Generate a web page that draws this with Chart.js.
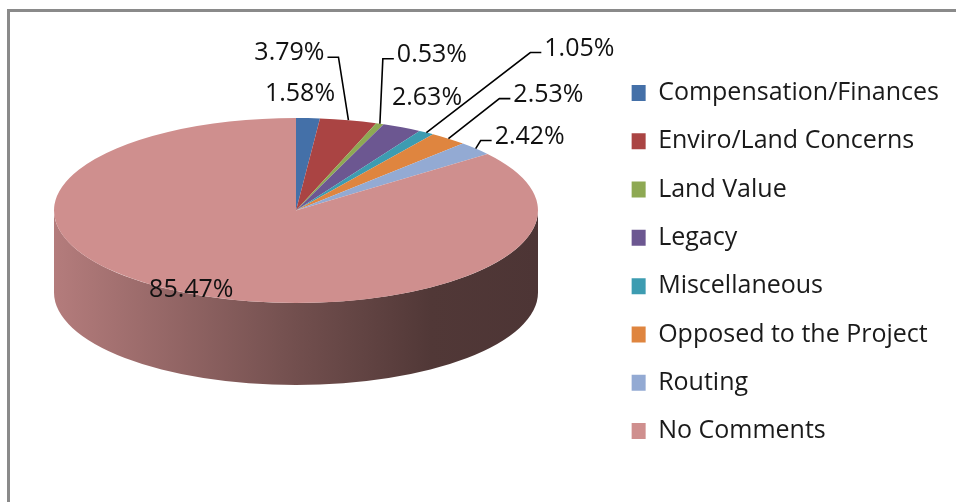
<!DOCTYPE html>
<html><head><meta charset="utf-8">
<script src="https://cdn.jsdelivr.net/npm/chart.js@4"></script>
<style>
html,body{margin:0;padding:0;background:#fff;overflow:hidden}
#wrap{position:relative;width:956px;height:502px;overflow:hidden}
#frame{position:absolute;left:7px;top:9px;width:1000px;height:600px;border-left:3px solid #8a8a8a;border-top:3px solid #8a8a8a;box-sizing:border-box}
canvas{position:absolute;left:0;top:0}
</style></head><body>
<div id="wrap"><div id="frame"></div><canvas id="c" width="956" height="502"></canvas></div>
<script>
// ---- data ----
const categories = ['Compensation/Finances','Enviro/Land Concerns','Land Value','Legacy','Miscellaneous','Opposed to the Project','Routing','No Comments'];
const values = [1.58, 3.79, 0.53, 2.63, 1.05, 2.53, 2.42, 85.47];
const colors = ['#4470A8','#AA4443','#8EA953','#6C5791','#3D9CB1','#DF853F','#93AAD3','#CF8F8E'];

// ---- style / layout ----
const PIE = {cx:296, cy:210.5, rx:242, ry:92.5, depth:82};
const FONT_SIZE = 25;
const labelOffsets = [[-8,-24],[-59,-67],[52,-69],[25,-29],[153,-84],[100,-44],[54,-12],[2,-4]];
const leaderSide = [0,-1,1,0,1,1,1,0];

function shade(hex, f){
  const n = parseInt(hex.slice(1),16);
  const r=(n>>16)&255, g=(n>>8)&255, b=n&255;
  return 'rgb('+Math.round(r*f)+','+Math.round(g*f)+','+Math.round(b*f)+')';
}

const pie3d = {
  id:'pie3d',
  beforeDatasetsDraw(chart){
    const ctx = chart.ctx;
    const meta = chart.getDatasetMeta(0);
    const {cx,cy,rx,ry,depth} = PIE;
    ctx.save();
    meta.data.forEach((arc,i)=>{
      const s = Math.max(arc.startAngle, 0), e = Math.min(arc.endAngle, Math.PI);
      if (e <= s) return;
      const g = ctx.createLinearGradient(cx-rx,0,cx+rx,0);
      const col = colors[i];
      g.addColorStop(0, shade(col,.87));
      g.addColorStop(.5, shade(col,.55));
      g.addColorStop(.78, shade(col,.39));
      g.addColorStop(1, shade(col,.37));
      ctx.beginPath();
      ctx.ellipse(cx,cy,rx,ry,0,s,e,false);
      ctx.ellipse(cx,cy+depth,rx,ry,0,e,s,true);
      ctx.closePath();
      ctx.fillStyle = g;
      ctx.fill();
    });
    ctx.restore();
    const a = meta.data[0];
    ctx.save();
    ctx.translate(cx,cy);
    ctx.scale(rx/a.outerRadius, ry/a.outerRadius);
    ctx.translate(-a.x,-a.y);
  },
  afterDatasetsDraw(chart){
    const ctx = chart.ctx;
    ctx.restore();
    const meta = chart.getDatasetMeta(0);
    const {cx,cy,rx,ry} = PIE;
    ctx.save();
    ctx.font = FONT_SIZE+'px "Open Sans"';
    ctx.fillStyle = '#111';
    ctx.textAlign = 'center';
    ctx.textBaseline = 'middle';
    meta.data.forEach((arc,i)=>{
      const m = (arc.startAngle+arc.endAngle)/2;
      const ax = cx+rx*Math.cos(m), ay = cy+ry*Math.sin(m);
      const tx = ax+labelOffsets[i][0], ty = ay+labelOffsets[i][1];
      const txt = values[i].toFixed(2)+'%';
      ctx.fillText(txt,tx,ty);
      if (leaderSide[i]) {
        const w = ctx.measureText(txt).width;
        const ex = leaderSide[i]>0 ? tx-w/2-3 : tx+w/2+3;
        const ex2 = ex - leaderSide[i]*11;
        ctx.beginPath();
        ctx.moveTo(ex,ty+4); ctx.lineTo(ex2,ty+4); ctx.lineTo(ax,ay);
        ctx.lineWidth = 1.6; ctx.strokeStyle = '#000'; ctx.stroke();
      }
    });
    ctx.restore();
  }
};

new Chart(document.getElementById('c'), {
  type:'pie',
  data:{labels:categories, datasets:[{data:values, backgroundColor:colors, borderWidth:0}]},
  options:{
    responsive:false, animation:false, devicePixelRatio:1,
    layout:{padding:{top:22,right:7,bottom:0,left:0}},
    plugins:{
      tooltip:{enabled:false},
      legend:{position:'right', labels:{font:{family:'"Open Sans"', size:FONT_SIZE}, color:'#1a1a1a', boxWidth:14, boxHeight:16, padding:23.3}}
    }
  },
  plugins:[pie3d]
});
</script>
</body></html>
